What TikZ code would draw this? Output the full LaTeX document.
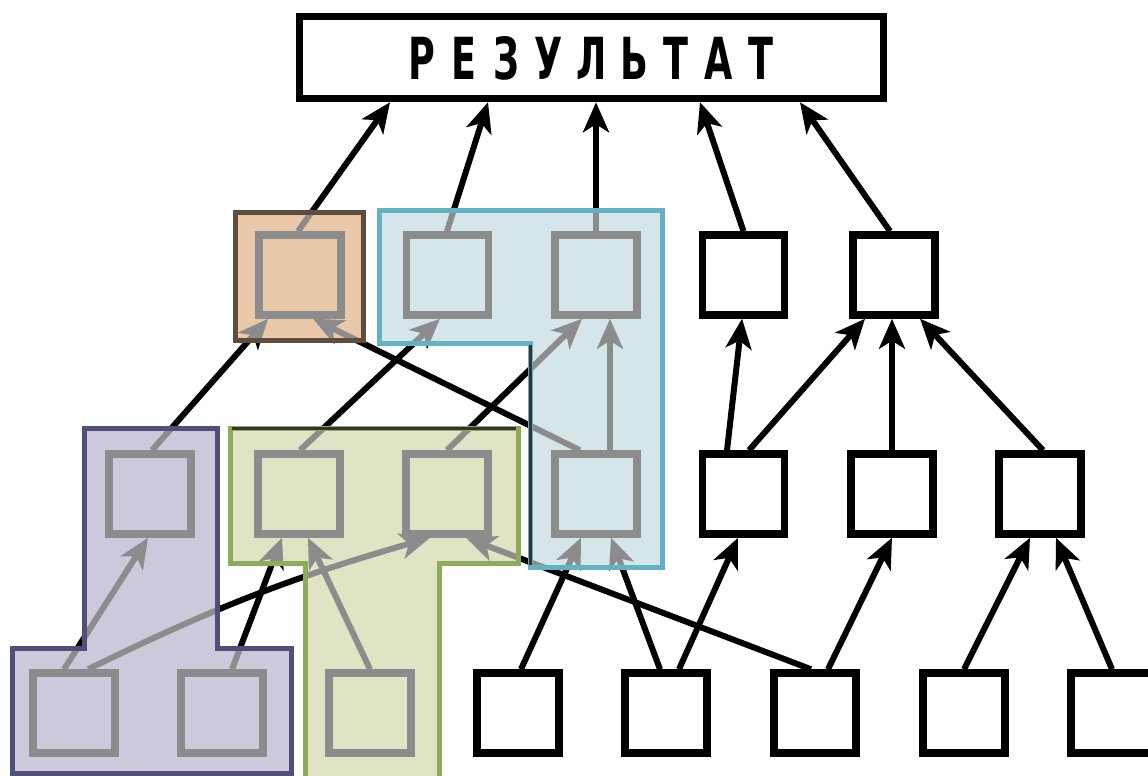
\documentclass[tikz,border=0pt]{standalone}
\usepackage{fontspec}
\usetikzlibrary{arrows.meta}
\newfontfamily\titlefont{DejaVu Sans}
\definecolor{peachfill}{RGB}{233,201,170}
\definecolor{peachline}{RGB}{95,76,62}
\definecolor{bluefill}{RGB}{212,230,234}
\definecolor{blueline}{RGB}{98,178,196}
\definecolor{purplefill}{RGB}{205,200,220}
\definecolor{purpleline}{RGB}{78,80,120}
\definecolor{greenfill}{RGB}{224,228,196}
\definecolor{greenline}{RGB}{140,172,90}
\definecolor{ingray}{RGB}{140,140,140}
\newcommand\tletter[1]{\makebox[67.4pt]{#1}}
\newcommand\drawedges[1]{%
  \begin{scope}[color=#1]
  % to the result
  \draw[arr] ([xshift=-2pt]A1.north) -- ([xshift=-201.5pt]T.south);
  \draw[arr] ([xshift=-0.5pt]A2.north) -- ([xshift=-103.5pt]T.south);
  \draw[arr] (A3.north) -- ([xshift=4.5pt]T.south);
  \draw[arr] (A4.north) -- ([xshift=-43.5pt]T.south -| A4.north);
  \draw[arr] ([xshift=-4pt]A5.north) -- ([xshift=208.5pt]T.south);
  % row 2 to row 1
  \draw[arr] ([xshift=2pt]B1.north) -- ([xshift=-32pt]A1.south);
  \draw[arr] ([xshift=-16pt]B4.north) -- ([xshift=13pt]A1.south);
  \draw[arr] ([xshift=1pt]B2.north) -- ([xshift=-7.5pt]A2.south);
  \draw[arr] (B3.north) -- ([xshift=-14pt]A3.south);
  \draw[arr] ([xshift=14pt]B4.north) -- ([xshift=14pt]A3.south);
  \draw[arr] ([xshift=-16.5pt]B5.north) -- ([xshift=-1.5pt]A4.south);
  \draw[arr] ([xshift=5.5pt]B5.north) -- ([xshift=-29pt]A5.south);
  \draw[arr] (B6.north) -- ([xshift=-2pt]A5.south);
  \draw[arr] ([xshift=3pt]B7.north) -- ([xshift=26pt]A5.south);
  % row 3 to row 2
  \draw[arr] ([xshift=-10pt]C1.north) -- ([xshift=-2pt]B1.south);
  \draw[arr] ([xshift=14pt]C1.north) to[bend left=5] ([xshift=-17pt]B3.south);
  \draw[arr] ([xshift=10pt]C2.north) -- ([xshift=-17pt]B2.south);
  \draw[arr] (C3.north) -- ([xshift=9pt]B2.south);
  \draw[arr] ([xshift=-4pt]C6.north) -- ([xshift=19pt]B3.south);
  \draw[arr] ([xshift=3pt]C4.north) -- ([xshift=-15pt]B4.south);
  \draw[arr] ([xshift=-6pt]C5.north) -- ([xshift=15pt]B4.south);
  \draw[arr] ([xshift=13pt]C5.north) -- ([xshift=-5.5pt]B5.south);
  \draw[arr] ([xshift=13pt]C6.north) -- (B6.south);
  \draw[arr] (C7.north) -- ([xshift=-10pt]B7.south);
  \draw[arr] (C8.north) -- ([xshift=16pt]B7.south);
  \end{scope}}
\newcommand\drawboxes[1]{%
  \foreach \n in {A1,A2,A3,B1,B2,B3,B4,C1,C2,C3}{\node[box,draw=#1] at (\n) {};}}
\begin{document}
\begin{tikzpicture}[x=1pt,y=-1pt,
  box/.style={draw, line width=7.5pt, minimum width=82pt, minimum height=80pt, inner sep=0pt},
  arr/.style={line width=6pt, -{Stealth[length=30pt,width=26pt,inset=8pt]}},
  region/.style={line width=5pt, line join=miter}]
\useasboundingbox (0,0) rectangle (1148,776);
\fill[white] (0,0) rectangle (1148,776);
\clip (0,0) rectangle (1148,776);
% title
\node[box, minimum width=584pt, minimum height=82pt] (T) at (591.5,57.5) {};
\node[anchor=base, inner sep=0pt] (TT) at (591.5,80)
  {\scalebox{0.63}[1]{\titlefont\bfseries\fontsize{58}{58}\selectfont
   \tletter{Р}\tletter{Е}\tletter{З}\tletter{У}\tletter{Л}\tletter{Ь}\tletter{Т}\tletter{А}\tletter{Т}}};
% row 1
\node[box] (A1) at (300,275) {};
\node[box] (A2) at (447.5,275) {};
\node[box] (A3) at (596,275) {};
\node[box] (A4) at (743.5,275) {};
\node[box] (A5) at (894,275) {};
% row 2
\node[box] (B1) at (150,494) {};
\node[box] (B2) at (299,494) {};
\node[box] (B3) at (447,494) {};
\node[box] (B4) at (596,494) {};
\node[box] (B5) at (743.5,494) {};
\node[box] (B6) at (892,494) {};
\node[box] (B7) at (1040,494) {};
% row 3
\node[box] (C1) at (74,713) {};
\node[box] (C2) at (222,713) {};
\node[box] (C3) at (370,713) {};
\node[box] (C4) at (518,713) {};
\node[box] (C5) at (666,713) {};
\node[box] (C6) at (815,713) {};
\node[box] (C7) at (964,713) {};
\node[box] (C8) at (1112,713) {};
\drawedges{black}
% orange group
\begin{scope}
  \clip (235,212) rectangle (363,340);
  \fill[peachfill] (235,212) rectangle (363,340);
  \drawedges{ingray}\drawboxes{ingray}
\end{scope}
\draw[region, peachline] (235,212) rectangle (363,340);
% blue group
\def\bluepath{(379,210) -- (662,210) -- (662,567) -- (530,567) -- (530,343) -- (379,343) -- cycle}
\begin{scope}
  \clip \bluepath;
  \fill[bluefill] \bluepath;
  \drawedges{ingray}\drawboxes{ingray}
\end{scope}
\draw[region, blueline] \bluepath;
\draw[line width=3pt, black!80] (530,345) -- (530,565);
% purple group
\def\purplepath{(84,428) -- (217,428) -- (217,648) -- (291,648) -- (291,773) -- (12,773) -- (12,648) -- (84,648) -- cycle}
\begin{scope}
  \clip \purplepath;
  \fill[purplefill] \purplepath;
  \drawedges{ingray}\drawboxes{ingray}
\end{scope}
\draw[region, purpleline] \purplepath;
% green group
\def\greenpath{(230,428) -- (518,428) -- (518,563) -- (439,563) -- (439,790) -- (305,790) -- (305,563) -- (230,563) -- cycle}
\begin{scope}
  \clip \greenpath;
  \fill[greenfill] \greenpath;
  \drawedges{ingray}\drawboxes{ingray}
\end{scope}
\draw[region, greenline] \greenpath;
\draw[line width=3pt, black!80] (232,428) -- (516,428);
\end{tikzpicture}
\end{document}
